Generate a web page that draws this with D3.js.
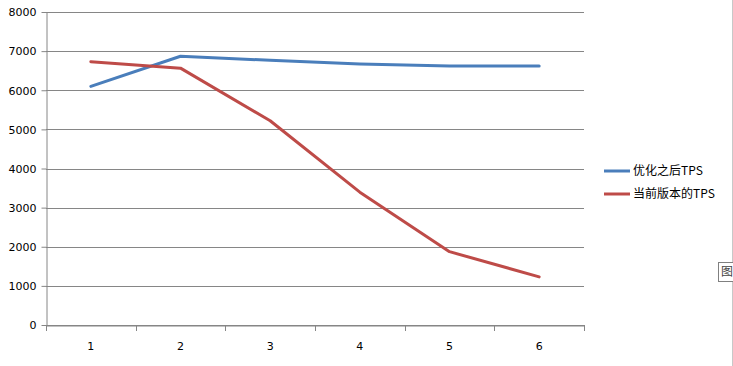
<!DOCTYPE html>
<html>
<head>
<meta charset="utf-8">
<script src="https://cdn.jsdelivr.net/npm/d3@7"></script>
<style>
  body { margin: 0; background: #fff; }
  svg { display: block; }
  text { font-family: "DejaVu Sans", "Liberation Sans", sans-serif; }
</style>
</head>
<body>
<div id="chart"></div>
<script>
// chart data
const categories = ["1", "2", "3", "4", "5", "6"];
const optimizedTps = [6100, 6870, 6765, 6670, 6620, 6620];
const currentTps = [6730, 6565, 5220, 3395, 1875, 1230];
const seriesNames = ["优化之后TPS", "当前版本的TPS"];
const seriesColors = ["#4a7ebb", "#be4b48"];
const yTicks = [0, 1000, 2000, 3000, 4000, 5000, 6000, 7000, 8000];

const width = 733, height = 366;
const margin = { top: 12, right: 149, bottom: 41, left: 46 };
const plotW = width - margin.left - margin.right,
  plotH = height - margin.top - margin.bottom;

const svg = d3.select("#chart").append("svg")
  .attr("width", width)
  .attr("height", height);

const g = svg.append("g")
  .attr("transform", `translate(${margin.left} ${margin.top})`);

const xScale = d3.scaleBand()
  .domain(categories)
  .range([0, plotW]);

const yScale = d3.scaleLinear()
  .domain([0, 8000])
  .range([plotH, 0]);

// horizontal gridlines
g.selectAll(".grid")
  .data(yTicks)
  .enter().append("line")
    .attr("x1", 0)
    .attr("x2", plotW)
    .attr("y1", d => Math.round(yScale(d)) + 0.5)
    .attr("y2", d => Math.round(yScale(d)) + 0.5)
    .attr("stroke", "#868686")
    .attr("stroke-width", 1);

// y axis
const yAxis = g.append("g")
  .attr("transform", "translate(0.5 0)")
  .call(d3.axisLeft(yScale).tickValues(yTicks).tickFormat(d3.format("d"))
    .tickSize(5).tickSizeOuter(0).tickPadding(5));
yAxis.selectAll("line, path").attr("stroke", "#868686");
yAxis.selectAll("text")
  .attr("fill", "#000")
  .style("font-size", "11px")
  .attr("dy", "0.35em");

// x axis
const xAxis = g.append("g")
  .attr("transform", `translate(0 ${Math.round(plotH) + 0.5})`)
  .call(d3.axisBottom(xScale).tickSize(0).tickPadding(17));
xAxis.select("path").attr("stroke", "#868686");
xAxis.selectAll("text")
  .attr("fill", "#000")
  .style("font-size", "11px");

// x ticks at band boundaries
const bounds = categories.map(c => xScale(c)).concat([plotW]);
g.selectAll(".xtick")
  .data(bounds)
  .enter().append("line")
    .attr("x1", d => Math.round(d) + 0.5)
    .attr("x2", d => Math.round(d) + 0.5)
    .attr("y1", plotH)
    .attr("y2", plotH + 6)
    .attr("stroke", "#868686");

// lines
const lineGen = d3.line()
  .x((d, i) => xScale(categories[i]) + xScale.bandwidth() / 2)
  .y(d => yScale(d));

[optimizedTps, currentTps].forEach((series, k) => {
  g.append("path")
    .attr("d", lineGen(series))
    .attr("fill", "none")
    .attr("stroke", seriesColors[k])
    .attr("stroke-width", 3)
    .attr("stroke-linejoin", "round")
    .attr("stroke-linecap", "round");
});

// legend
const legend = svg.append("g")
  .attr("transform", "translate(604 171)");
seriesNames.forEach((name, k) => {
  const row = legend.append("g").attr("transform", `translate(0 ${k * 23})`);
  row.append("line")
    .attr("x1", 0).attr("x2", 26)
    .attr("y1", 0).attr("y2", 0)
    .attr("stroke", seriesColors[k])
    .attr("stroke-width", 3);
  row.append("text")
    .attr("x", 29)
    .attr("y", 0)
    .attr("dy", "0.35em")
    .style("font-size", "12px")
    .style("font-family", "'Noto Sans CJK SC', sans-serif")
    .attr("fill", "#000")
    .text(name);
});

// right edge of the sheet and the little tooltip box
svg.append("line")
  .attr("x1", 732.5).attr("x2", 732.5)
  .attr("y1", 0).attr("y2", 366)
  .attr("stroke", "#c8c8c8");
svg.append("rect")
  .attr("x", 718.5).attr("y", 262.5)
  .attr("width", 16).attr("height", 19)
  .attr("fill", "#fff")
  .attr("stroke", "#808080");
svg.append("text")
  .attr("x", 721).attr("y", 276)
  .style("font-size", "12px")
  .style("font-family", "'Noto Sans CJK SC', sans-serif")
  .attr("fill", "#444")
  .text("图");
</script>
</body>
</html>
